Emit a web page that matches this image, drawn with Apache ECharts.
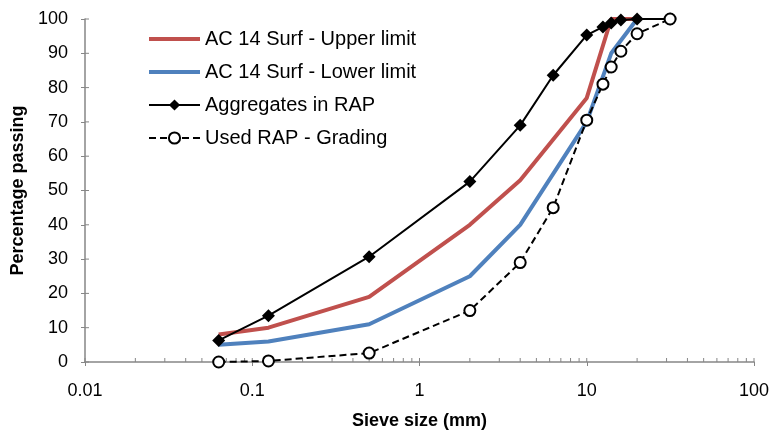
<!DOCTYPE html>
<html>
<head>
<meta charset="utf-8">
<script src="https://cdn.jsdelivr.net/npm/echarts@6/dist/echarts.min.js"></script>
<style>
  html, body { margin: 0; padding: 0; background: #fff; }
  #main { width: 773px; height: 431px; }
</style>
</head>
<body>
<div id="main"></div>
<script>
// sieve sizes (mm)
const sievesLimits = [0.063, 0.125, 0.5, 2, 4, 10, 14, 20];
const sievesRap = [0.063, 0.125, 0.5, 2, 4, 6.3, 10, 12.5, 14, 16, 20, 31.5];

// percentage passing
const upperLimit = [8, 10, 19, 40, 53, 77, 100, 100];
const lowerLimit = [5, 6, 11, 25, 40, 70, 90, 100];
const aggregatesRap = [6.3, 13.5, 30.7, 52.6, 69, 83.6, 95.3, 97.7, 98.8, 99.7, 100, 100];
const usedRap = [0, 0.3, 2.6, 15, 29, 45, 70.5, 81, 86, 90.6, 95.7, 100];

// axis ticks
const xMajorTicks = [0.01, 0.1, 1, 10, 100];
const xMinorTicks = [
  0.02, 0.03, 0.04, 0.05, 0.06, 0.07, 0.08, 0.09,
  0.2, 0.3, 0.4, 0.5, 0.6, 0.7, 0.8, 0.9,
  2, 3, 4, 5, 6, 7, 8, 9,
  20, 30, 40, 50, 60, 70, 80, 90
];
const yTicks = [0, 10, 20, 30, 40, 50, 60, 70, 80, 90, 100];

const axisGrey = '#868686';
const font = '"Liberation Sans", Arial, sans-serif';

const chartDom = document.getElementById('main');
const myChart = echarts.init(chartDom);

const pairs = (xs, ys) => xs.map((x, i) => [x, ys[i]]);

// short tick marks drawn inside the plot, placed through the chart's own scales
const tickSeries = (values, horizontal, len) => ({
  type: 'custom',
  silent: true,
  clip: false,
  z: 1,
  data: values.map(v => horizontal ? [v, 0] : [0.01, v]),
  renderItem: (params, api) => {
    const p = api.coord([api.value(0), api.value(1)]);
    const shape = horizontal
      ? { x1: p[0], y1: p[1], x2: p[0], y2: p[1] - len }
      : { x1: p[0], y1: p[1], x2: p[0] + len, y2: p[1] };
    return { type: 'line', shape, style: { stroke: axisGrey, lineWidth: 1 } };
  }
});

const option = {
  animation: false,
  backgroundColor: '#fff',
  grid: { left: 85, right: 19, top: 19, bottom: 69, outerBoundsMode: 'none', containLabel: false },
  legend: {
    orient: 'vertical',
    left: 142,
    top: 24,
    itemWidth: 51,
    itemHeight: 14,
    itemGap: 13,
    data: [
      { name: 'AC 14 Surf - Upper limit', itemStyle: { opacity: 0 }, lineStyle: { width: 4 } },
      { name: 'AC 14 Surf - Lower limit', itemStyle: { opacity: 0 }, lineStyle: { width: 4 } },
      'Aggregates in RAP',
      'Used RAP - Grading'
    ],
    textStyle: { fontFamily: font, fontSize: 20, color: '#000' }
  },
  xAxis: {
    type: 'log',
    logBase: 10,
    min: 0.01,
    max: 100,
    name: 'Sieve size (mm)',
    nameLocation: 'middle',
    nameGap: 50,
    nameTextStyle: { fontFamily: font, fontSize: 18, fontWeight: 'bold', color: '#000' },
    axisLine: { lineStyle: { color: axisGrey, width: 1.5 } },
    axisTick: { show: true, length: 4, lineStyle: { color: axisGrey } },
    axisLabel: {
      fontFamily: font, fontSize: 18, color: '#000', margin: 20,
      formatter: v => String(v)
    },
    splitLine: { show: false }
  },
  yAxis: {
    type: 'value',
    min: 0,
    max: 100,
    interval: 10,
    name: 'Percentage passing',
    nameLocation: 'middle',
    nameGap: 53,
    nameTextStyle: { fontFamily: font, fontSize: 18, fontWeight: 'bold', color: '#000' },
    axisLine: { show: true, lineStyle: { color: axisGrey, width: 1.5 } },
    axisTick: { show: true, length: 4, lineStyle: { color: axisGrey } },
    axisLabel: { fontFamily: font, fontSize: 18, color: '#000', margin: 17 },
    splitLine: { show: false }
  },
  series: [
    tickSeries(xMinorTicks, true, 4),
    tickSeries(xMajorTicks, true, 4),
    tickSeries(yTicks, false, 4),
    {
      name: 'AC 14 Surf - Upper limit',
      type: 'line',
      symbol: 'none',
      z: 2,
      lineStyle: { color: '#C0504D', width: 4 },
      itemStyle: { color: '#C0504D' },
      data: pairs(sievesLimits, upperLimit)
    },
    {
      name: 'AC 14 Surf - Lower limit',
      type: 'line',
      symbol: 'none',
      z: 3,
      lineStyle: { color: '#4F81BD', width: 4 },
      itemStyle: { color: '#4F81BD' },
      data: pairs(sievesLimits, lowerLimit)
    },
    {
      name: 'Aggregates in RAP',
      type: 'line',
      symbol: 'diamond',
      symbolSize: 13,
      z: 4,
      lineStyle: { color: '#000', width: 2 },
      itemStyle: { color: '#000' },
      data: pairs(sievesRap, aggregatesRap)
    },
    {
      name: 'Used RAP - Grading',
      type: 'line',
      symbol: 'circle',
      symbolSize: 11,
      z: 5,
      lineStyle: { color: '#000', width: 2, type: [7, 4] },
      itemStyle: { color: '#fff', borderColor: '#000', borderWidth: 2 },
      data: pairs(sievesRap, usedRap)
    }
  ]
};

myChart.setOption(option);
</script>
</body>
</html>
